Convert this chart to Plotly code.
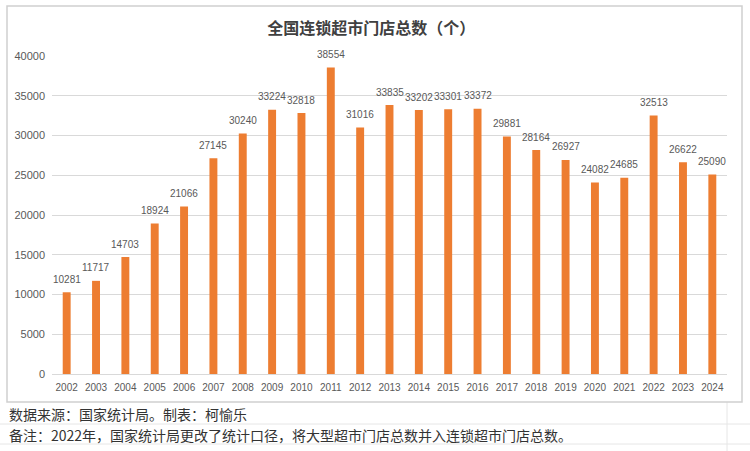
import plotly.graph_objects as go

# 年份与门店数（个）
years = list(range(2002, 2025))
stores = [10281, 11717, 14703, 18924, 21066, 27145, 30240, 33224, 32818, 38554,
          31016, 33835, 33202, 33301, 33372, 29881, 28164, 26927, 24082, 24685,
          32513, 26622, 25090]
y_ticks = [0, 5000, 10000, 15000, 20000, 25000, 30000, 35000, 40000]

title_text = "全国连锁超市门店总数（个）"
source_text = "数据来源：国家统计局。制表：柯愉乐"
note_text = "备注：2022年，国家统计局更改了统计口径，将大型超市门店总数并入连锁超市门店总数。"

W, H = 750, 451
L, R, T, B = 52, 727, 56, 374  # plot area in pixels


def px(x):
    return (x - L) / (R - L)


def py(y):
    return (B - y) / (B - T)


num_font = "Liberation Sans, Arial, sans-serif"
cjk_font = "Noto Sans CJK SC, sans-serif"

fig = go.Figure()
fig.add_trace(go.Bar(
    x=years,
    y=stores,
    marker_color="#ED7D31",
    marker_line_width=0,
    hoverinfo="x+y",
))

# 数据标签
annotations = []
for yr, v in zip(years, stores):
    annotations.append(dict(
        x=yr, y=v, text=str(v), showarrow=False,
        yanchor="middle", yshift=13,
        font=dict(size=10, color="#595959", family=num_font),
    ))

annotations.append(dict(text=source_text, xref="paper", yref="paper",
                        x=px(7), y=py(414), xanchor="left", yanchor="middle",
                        showarrow=False,
                        font=dict(size=14, color="#333333", family=cjk_font)))
annotations.append(dict(text=note_text, xref="paper", yref="paper",
                        x=px(7), y=py(435), xanchor="left", yanchor="middle",
                        showarrow=False,
                        font=dict(size=14, color="#333333", family=cjk_font)))

shapes = []
# faint spreadsheet cell lines outside the chart
for yy in [424, 444]:
    shapes.append(dict(type="line", xref="paper", yref="paper",
                       x0=px(0), x1=px(W), y0=py(yy), y1=py(yy),
                       line=dict(color="#E6E6E6", width=1), layer="below"))
shapes.append(dict(type="line", xref="paper", yref="paper",
                   x0=px(727), x1=px(727), y0=py(402), y1=py(H),
                   line=dict(color="#E6E6E6", width=1), layer="below"))
# chart frame
shapes.append(dict(type="rect", xref="paper", yref="paper",
                   x0=px(7), x1=px(742), y0=py(402), y1=py(6),
                   line=dict(color="#D0D0D0", width=1.5),
                   fillcolor="rgba(0,0,0,0)", layer="below"))

fig.update_layout(
    width=W, height=H,
    margin=dict(l=L, r=W - R, t=T, b=H - B),
    paper_bgcolor="white",
    plot_bgcolor="white",
    bargap=0.73,
    showlegend=False,
    title=dict(text=title_text, x=0.495, xanchor="center",
               y=1 - 28 / H, yanchor="middle",
               font=dict(size=16, color="#404040", family=cjk_font, weight="bold")),
    xaxis=dict(
        range=[years[0] - 0.5, years[-1] + 0.5],
        tickvals=years,
        showgrid=False,
        zeroline=False,
        showline=True, linecolor="#D9D9D9", linewidth=1,
        ticks="",
        ticklabelstandoff=4,
        tickfont=dict(size=10, color="#595959", family=num_font),
    ),
    yaxis=dict(
        range=[0, 40000],
        tickvals=y_ticks,
        tickformat="d",
        showgrid=True, gridcolor="#D9D9D9", gridwidth=1,
        zeroline=False,
        showline=False,
        ticks="",
        ticklabelstandoff=6,
        tickfont=dict(size=11, color="#595959", family=num_font),
    ),
    shapes=shapes,
    annotations=annotations,
)

fig.write_html("out.html", config={"displayModeBar": False},
               post_script="document.body.style.margin='0';")
